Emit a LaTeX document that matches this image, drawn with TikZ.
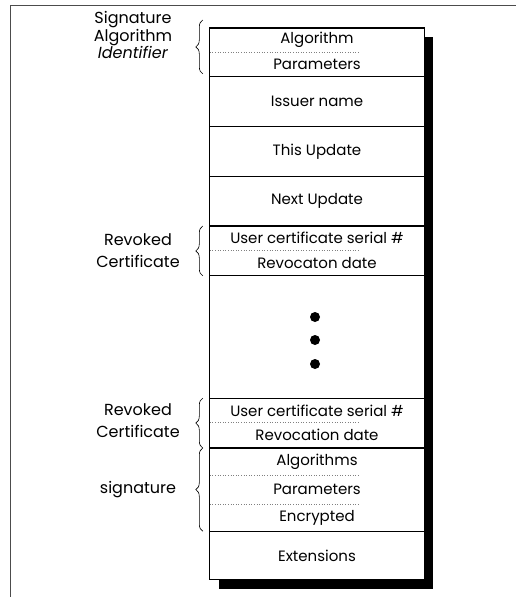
\documentclass[tikz,border=0pt]{standalone}
\usepackage{fontspec}
\setmainfont{Poppins}
\usetikzlibrary{positioning, decorations.pathreplacing, backgrounds}
\tikzset{
  field/.style={minimum width=214pt, inner sep=0pt, font=\fontsize{15}{16}\selectfont},
  sep/.style={line width=1.2pt},
  subsep/.style={gray, dotted, line width=0.6pt},
  brc/.style={decorate, decoration={brace, amplitude=7pt}, line width=0.6pt},
  lbl/.style={align=center, font=\fontsize{16}{22}\selectfont},
  frame/.style={draw=black!70, line width=0.8pt}
}
\newcommand{\field}[4]{
    \node[field, minimum height=#3pt, below=0pt of #2] (#1) {#4};
}

\begin{document}
\begin{tikzpicture}[x=1pt, y=-1pt]
    \useasboundingbox (0,0) rectangle (516,597);
    \draw[frame] (10,597) -- (10,5) -- (516,5);
    \node[field, minimum height=24pt, anchor=north] (alg) at (317,28) {Algorithm};
    \field{par}{alg}{24}{Parameters}
    \field{issuer}{par}{49}{Issuer name}
    \field{this}{issuer}{50}{This Update}
    \field{next}{this}{49}{Next Update}
    \field{ser1}{next}{24}{User certificate serial \#}
    \field{rev1}{ser1}{25}{Revocaton date}
    \field{dots}{rev1}{122}{}
    \field{ser2}{dots}{24}{User certificate serial \#}
    \field{rev2}{ser2}{25}{Revocation date}
    \field{algs}{rev2}{27}{Algorithms}
    \field{pars}{algs}{28}{Parameters}
    \field{enc}{pars}{27}{Encrypted}
    \field{ext}{enc}{48}{Extensions}
    \begin{scope}[on background layer]
        \fill ([shift={(9,9)}]alg.north west) rectangle ([shift={(9,9)}]ext.south east);
        \fill[white] (alg.north west) rectangle (ext.south east);
    \end{scope}
    \draw[sep] (alg.north west) rectangle (ext.south east);
    \foreach \n in {par, issuer, this, next, rev1, dots, rev2, enc}
        \draw[sep] (\n.south west) -- (\n.south east);
    \foreach \n in {alg, ser1, ser2, algs, pars}
        \draw[subsep] (\n.south west) -- +(150,0);
    \foreach \dy in {-20,3,27}
        \fill (dots.center) ++(-2,\dy) circle (5);
    \draw[brc] ([xshift=-7pt, yshift=3pt]par.south west) -- ([xshift=-7pt, yshift=8pt]alg.north west);
    \draw[brc] ([xshift=-7pt]rev1.south west) -- ([xshift=-7pt]ser1.north west);
    \draw[brc] ([xshift=-7pt]rev2.south west) -- ([xshift=-7pt]ser2.north west);
    \draw[brc] ([xshift=-7pt]enc.south west) -- ([xshift=-7pt]algs.north west);
    \node[lbl, font=\fontsize{16}{17.5}\selectfont] (sigid) at (133,35) {Signature\\Algorithm\\\textit{Identifier}};
    \node[lbl] (revd1) at (138,251) {Revoked\\Certificate};
    \node[lbl] (revd2) at (138,421) {Revoked\\Certificate};
    \node[lbl] (sig) at (138,490) {signature};
\end{tikzpicture}
\end{document}
